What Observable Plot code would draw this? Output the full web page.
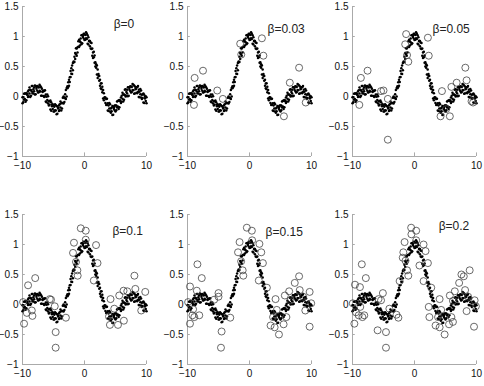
<!DOCTYPE html>
<html><head><meta charset="utf-8">
<script src="https://cdn.jsdelivr.net/npm/d3@7"></script>
<script src="https://cdn.jsdelivr.net/npm/@observablehq/plot@0.6"></script>
<style>
html,body{margin:0;padding:0;background:#fff;overflow:hidden;}
#root{position:relative;width:484px;height:386px;background:#fff;}
.cell{position:absolute;}
</style></head><body><div id="root"></div>
<script>
// sample positions of the (noisy sinc) data, shared by all panels
const xs = [-10,-9.875,-9.75,-9.625,-9.5,-9.375,-9.25,-9.125,-9,-8.875,
-8.75,-8.625,-8.5,-8.375,-8.25,-8.125,-8,-7.875,-7.75,-7.625,
-7.5,-7.375,-7.25,-7.125,-7,-6.875,-6.75,-6.625,-6.5,-6.375,
-6.25,-6.125,-6,-5.875,-5.75,-5.625,-5.5,-5.375,-5.25,-5.125,
-5,-4.875,-4.75,-4.625,-4.5,-4.375,-4.25,-4.125,-4,-3.875,
-3.75,-3.625,-3.5,-3.375,-3.25,-3.125,-3,-2.875,-2.75,-2.625,
-2.5,-2.375,-2.25,-2.125,-2,-1.875,-1.75,-1.625,-1.5,-1.375,
-1.25,-1.125,-1,-0.875,-0.75,-0.625,-0.5,-0.375,-0.25,-0.125,
0,
0.125,0.25,0.375,0.5,0.625,0.75,0.875,1,1.125,1.25,
1.375,1.5,1.625,1.75,1.875,2,2.125,2.25,2.375,2.5,
2.625,2.75,2.875,3,3.125,3.25,3.375,3.5,3.625,3.75,
3.875,4,4.125,4.25,4.375,4.5,4.625,4.75,4.875,5,
5.125,5.25,5.375,5.5,5.625,5.75,5.875,6,6.125,6.25,
6.375,6.5,6.625,6.75,6.875,7,7.125,7.25,7.375,7.5,
7.625,7.75,7.875,8,8.125,8.25,8.375,8.5,8.625,8.75,
8.875,9,9.125,9.25,9.375,9.5,9.625,9.75,9.875,10];
const ya = [-.014,-.094,.047,-.040,.052,-.064,.029,.082,.006,.148,
-.009,.103,.084,.173,.052,.148,.034,.176,.128,.097,
.165,.070,.194,.084,.154,.011,.077,.100,-.007,.104,
-.085,-.006,-.057,.003,-.148,-.078,-.218,-.096,-.164,-.208,
-.152,-.252,-.130,-.235,-.157,-.286,-.201,-.151,-.229,-.082,
-.232,-.108,-.110,.002,-.093,.036,-.043,.142,.139,.158,
.279,.242,.426,.380,.515,.438,.572,.664,.625,.803,
.679,.822,.831,.947,.849,.966,.869,1.027,.990,.967,
1.040,
.947,1.070,.957,1.019,.866,.919,.927,.801,.892,.679,
.733,.655,.684,.502,.538,.365,.450,.346,.262,.279,
.138,.219,.072,.107,-.064,-.023,-.018,-.140,-.038,-.232,
-.152,-.199,-.131,-.271,-.186,-.307,-.165,-.210,-.232,-.152,
-.228,-.084,-.166,-.068,-.178,-.078,-.017,-.087,.064,-.085,
.034,.023,.120,.007,.111,.004,.154,.114,.090,.165,
.077,.208,.106,.184,.048,.122,.153,.054,.173,-.009,
.078,.036,.102,-.041,.036,-.098,.030,-.033,-.074,-.014];
const yb = [-.114,-.014,-.053,.050,-.088,.056,.039,-.008,.106,.048,
.111,.013,.174,.053,.122,.088,.184,.036,.158,.177,
.065,.150,.094,.174,.014,.131,.087,.010,.093,.004,
.035,-.096,.033,-.117,-.078,-.138,-.068,-.236,-.134,-.128,
-.252,-.172,-.230,-.145,-.297,-.166,-.191,-.241,-.129,-.182,
-.112,-.198,-.020,-.118,-.023,-.024,.107,.002,.169,.238,
.179,.322,.326,.470,.375,.558,.582,.574,.725,.703,
.799,.732,.921,.827,.919,.906,1.019,.887,1.020,1.047,
.940,
1.027,.970,1.047,.879,.986,.929,.837,.901,.792,.799,
.643,.745,.564,.572,.478,.515,.310,.376,.342,.179,
.218,.119,.162,-.033,.056,-.013,-.108,-.040,-.138,-.112,
-.242,-.109,-.251,-.201,-.246,-.157,-.305,-.180,-.152,-.252,
-.148,-.184,-.076,-.208,-.058,-.068,-.107,.013,-.036,.035,
-.056,.113,.000,.077,.051,.154,.014,.144,.170,.065,
.157,.108,.196,.044,.168,.132,.063,.154,.073,.111,
-.012,.126,-.018,.029,-.024,.052,-.110,-.003,.006,-.114];

// outliers (open circles) per panel
const out00 = [];
const out03 = [[-8.85,0.31],[-7.5,0.43],[-8.96,-0.14],[-5.2,0.10],[-4.3,-0.04],[-1.5,0.88],[-1.33,0.70],[2.0,0.97],[2.24,0.68],[5.55,-0.33],[8.0,0.48],[6.5,0.23],[9.07,-0.1]];
const out05 = [[-8.65,0.31],[-7.57,0.43],[-8.9,-0.14],[-5.4,0.09],[-5.0,0.10],[-4.3,-0.04],[-4.3,-0.72],[-1.35,1.04],[-1.5,0.87],[-1.2,0.69],[-1.0,0.58],[2.16,0.98],[2.3,0.68],[4.43,0.09],[5.1,-0.21],[4.2,-0.33],[5.7,-0.33],[5.95,0.16],[6.8,0.23],[8.2,0.48],[8.4,0.27],[9.2,-0.08],[9.45,-0.1]];
const out10 = [[-7.95,0.44],[-9.1,0.32],[-9.9,0.04],[-9.75,-0.32],[-9.3,-0.14],[-8.5,-0.1],[-8.4,-0.19],[-5.6,0.09],[-5.4,0.08],[-4.8,-0.03],[-4.65,-0.46],[-4.65,-0.72],[-3.0,-0.22],[-1.7,1.03],[-1.85,0.86],[-1.37,0.71],[-1.15,0.57],[-1.1,0.48],[-0.6,1.27],[0.2,1.23],[0.2,1.08],[1.86,0.99],[2.1,0.69],[1.5,0.40],[4.2,0.09],[3.95,-0.2],[4.1,-0.34],[4.8,-0.07],[5.4,-0.34],[5.6,0.15],[6.35,-0.27],[6.3,0.23],[6.9,0.22],[8.05,0.48],[8.2,0.26],[9.8,0.21],[9.15,-0.1]];
const out15 = [[-9.9,0.04],[-9.6,0.30],[-9.2,-0.18],[-9.6,-0.32],[-9.1,-0.08],[-8.9,-0.21],[-8.4,0.67],[-8.1,-0.18],[-7.7,0.44],[-8.5,0.23],[-5.7,0.08],[-5.0,0.19],[-5.0,0.13],[-4.5,-0.45],[-4.6,-0.72],[-3.1,-0.22],[-1.6,1.04],[-1.85,0.87],[-1.35,0.72],[-1.1,0.57],[-1.0,0.48],[-0.43,1.28],[0.38,1.23],[0.43,1.07],[1.6,1.01],[1.9,0.87],[2.16,0.69],[1.5,0.40],[2.8,0.28],[4.2,0.09],[3.4,-0.35],[3.8,-0.21],[4.05,-0.38],[4.4,-0.09],[4.75,-0.5],[5.5,-0.33],[5.7,0.15],[5.95,-0.21],[6.4,0.22],[6.6,0.07],[7.3,0.36],[8.0,0.47],[8.1,0.24],[8.65,0.13],[9.7,0.21],[9.0,-0.1],[9.7,-0.37],[9.95,0.02]];
const out20 = [[-9.6,0.33],[-9.7,-0.32],[-9.45,-0.13],[-9.95,0.02],[-9.0,-0.18],[-8.75,-0.04],[-8.5,0.67],[-8.8,0.29],[-7.85,0.44],[-8.1,-0.18],[-8.4,-0.21],[-5.8,0.09],[-5.4,0.07],[-5.1,0.19],[-5.95,-0.43],[-4.6,-0.46],[-4.6,-0.72],[-4.05,-0.07],[-2.6,-0.22],[-2.9,-0.17],[-2.4,0.39],[-1.6,1.04],[-1.8,0.87],[-1.45,0.73],[-1.2,0.57],[-1.0,0.48],[-1.9,0.78],[-0.54,1.28],[0.27,1.23],[0.27,1.07],[-0.5,1.17],[1.46,1.0],[1.78,0.89],[2.16,0.69],[0.8,0.65],[1.46,0.39],[2.7,0.28],[2.3,-0.04],[4.05,0.09],[2.4,-0.21],[3.4,-0.35],[3.8,-0.21],[4.05,-0.38],[4.3,-0.09],[4.86,-0.5],[5.57,-0.33],[5.7,0.15],[5.95,-0.21],[6.5,0.22],[6.2,0.06],[6.2,-0.29],[7.2,0.36],[7.95,0.47],[8.16,0.24],[7.57,0.5],[8.9,0.57],[8.65,0.13],[8.4,-0.11],[9.7,0.07],[9.6,-0.37],[9.9,-0.03]];

const betaLabels = ["β=0","β=0.03","β=0.05","β=0.1","β=0.15","β=0.2"];
const labelX = [4.7, 2.9, 2.9, 4.5, 2.6, 3.9];
const labelY = [1.2, 1.12, 1.13, 1.22, 1.2, 1.3];
const outliers = [out00, out03, out05, out10, out15, out20];
const xTicks = [-10, 0, 10];
const yTicks = [-1, -0.5, 0, 0.5, 1, 1.5];

const dotsTable = xs.flatMap((x, i) => [{x, y: ya[i]}, {x, y: yb[i]}]);

const root = document.getElementById("root");
const cellLeft = [0, 165, 330], cellTop = [0, 208];
const axisColor = "#aaa";
const fmt = d3.format("~g");

betaLabels.forEach((lab, i) => {
  const r = Math.floor(i / 3), c = i % 3;
  const chart = Plot.plot({
    width: 154, height: 182,
    marginLeft: 22, marginRight: 8, marginTop: 6, marginBottom: 26,
    style: {fontFamily: "'Liberation Sans', Arial, sans-serif", fontSize: "10px", color: "#111", background: "transparent", overflow: "visible"},
    x: {domain: [-10, 10]},
    y: {domain: [-1, 1.5]},
    marks: [
      Plot.ruleX([-10], {stroke: axisColor, strokeWidth: 1}),
      Plot.ruleY([-1], {stroke: axisColor, strokeWidth: 1}),
      Plot.ruleY(yTicks, {x1: () => -10, x2: () => -9.55, stroke: axisColor}),
      Plot.ruleX(xTicks, {y1: () => -1, y2: () => -0.94, stroke: axisColor}),
      Plot.axisY(yTicks, {tickSize: 0, tickPadding: 4, label: null, tickFormat: fmt}),
      Plot.axisX(xTicks, {tickSize: 0, tickPadding: 5, label: null, tickFormat: fmt}),
      Plot.dot(dotsTable, {x: "x", y: "y", r: 1.25, fill: "#000", stroke: null}),
      Plot.dot(outliers[i], {x: d => d[0], y: d => d[1], r: 3.5, stroke: "#444", strokeWidth: 0.8, fill: "none"}),
      Plot.text([{label: lab, x: labelX[i], y: labelY[i]}], {x: "x", y: "y", text: "label", textAnchor: "start", fontSize: 12, fill: "#222"})
    ]
  });
  const div = document.createElement("div");
  div.className = "cell";
  div.style.left = cellLeft[c] + "px";
  div.style.top = cellTop[r] + "px";
  div.appendChild(chart);
  root.appendChild(div);
});
</script>
</body></html>
